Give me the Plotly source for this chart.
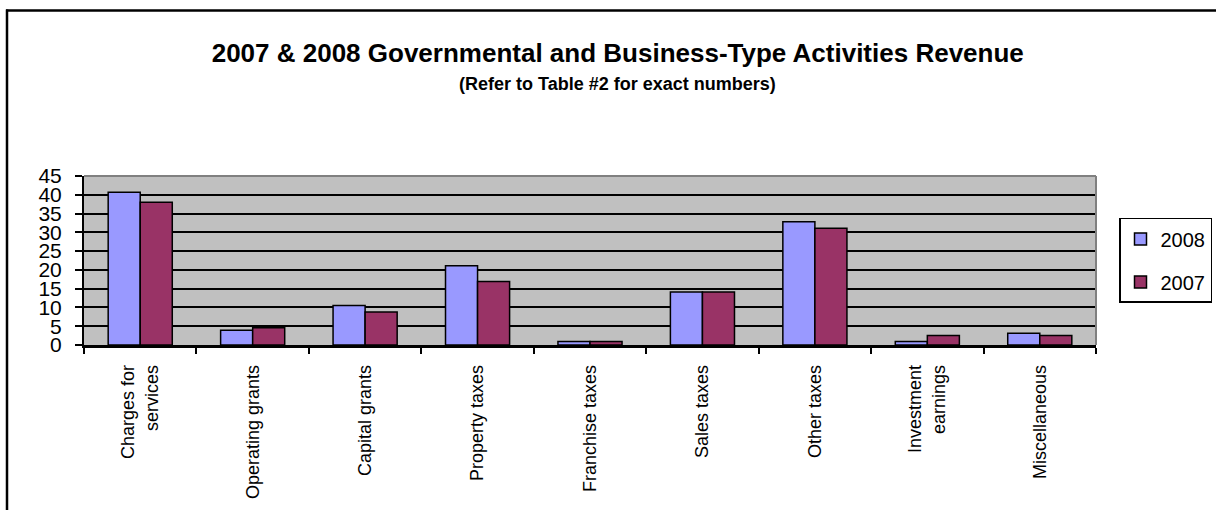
import plotly.graph_objects as go

# Revenue by source (percent of total), 2008 vs 2007
categories = [
    "Charges for<br>services",
    "Operating grants",
    "Capital grants",
    "Property taxes",
    "Franchise taxes",
    "Sales taxes",
    "Other taxes",
    "Investment<br>earnings",
    "Miscellaneous",
]
rev_2008 = [40.7, 3.9, 10.5, 21.1, 0.9, 14.1, 32.8, 0.9, 3.1]
rev_2007 = [38.0, 4.6, 8.8, 16.9, 0.9, 14.1, 31.1, 2.5, 2.5]
y_ticks = [0, 5, 10, 15, 20, 25, 30, 35, 40, 45]

W, H = 1216, 510
ML, MR, MT, MB = 84, 120, 176, 164.5
FONT = "Liberation Sans, Arial, sans-serif"


def px_x(px):
    return (px - ML) / (W - ML - MR)


def px_y(py):
    return (H - MB - py) / (H - MT - MB)


fig = go.Figure()
fig.add_trace(go.Bar(
    name="2008", x=categories, y=rev_2008,
    marker=dict(color="#9999FF", line=dict(color="#000000", width=1.5)),
    legendgroup="a",
))
fig.add_trace(go.Bar(
    name="2007", x=categories, y=rev_2007,
    marker=dict(color="#993366", line=dict(color="#000000", width=1.5)),
    legendgroup="b",
))

fig.update_layout(
    width=W, height=H,
    margin=dict(l=ML, r=MR, t=MT, b=MB, autoexpand=False),
    paper_bgcolor="#FFFFFF",
    plot_bgcolor="#C0C0C0",
    barmode="group",
    bargap=0.43,
    bargroupgap=0,
    font=dict(family=FONT, color="#000000"),
    title=dict(
        text="<b>2007 & 2008 Governmental and Business-Type Activities Revenue</b>",
        font=dict(family=FONT, size=26, color="#000000"),
        x=0.508, xanchor="center", xref="container",
        y=1 - 53 / H, yanchor="middle", yref="container",
    ),
    legend=dict(
        x=px_x(1119), y=px_y(218), xanchor="left", yanchor="top",
        bgcolor="#FFFFFF", bordercolor="#000000", borderwidth=1.5,
        font=dict(family=FONT, size=20, color="#000000"),
        traceorder="grouped", tracegroupgap=14,
        itemwidth=30,
    ),
    showlegend=True,
)

fig.update_xaxes(
    type="category",
    tickangle=-90,
    tickfont=dict(family=FONT, size=18, color="#000000"),
    showline=True, linecolor="#000000", linewidth=2.5,
    ticks="outside", ticklen=6, tickwidth=1.5, tickcolor="#000000",
    tickson="boundaries",
    showgrid=False,
    ticklabelstandoff=10,
)
fig.update_yaxes(
    range=[0, 45],
    tickvals=y_ticks,
    ticktext=[str(v) for v in y_ticks],
    tickfont=dict(family=FONT, size=21, color="#000000"),
    showline=True, linecolor="#000000", linewidth=2,
    ticks="outside", ticklen=7, tickwidth=1.5, tickcolor="#000000",
    showgrid=True, gridcolor="#000000", gridwidth=1.5,
    zeroline=False,
    ticklabelstandoff=9,
)

# Subtitle
fig.add_annotation(
    text="<b>(Refer to Table #2 for exact numbers)</b>",
    xref="paper", yref="paper", x=px_x(617), y=px_y(84),
    xanchor="center", yanchor="middle", showarrow=False,
    font=dict(family=FONT, size=18, color="#000000"),
)

# Plot-area border (top and right in grey)
fig.add_shape(type="line", xref="paper", yref="paper",
              x0=0, x1=1, y0=1, y1=1, line=dict(color="#808080", width=2))
fig.add_shape(type="line", xref="paper", yref="paper",
              x0=1, x1=1, y0=0, y1=1, line=dict(color="#808080", width=2))

# Outer chart frame
fig.add_shape(type="line", xref="paper", yref="paper",
              x0=px_x(6), x1=px_x(W + 5), y0=px_y(10), y1=px_y(10),
              line=dict(color="#000000", width=2.5))
fig.add_shape(type="line", xref="paper", yref="paper",
              x0=px_x(7), x1=px_x(7), y0=px_y(9), y1=px_y(H + 5),
              line=dict(color="#000000", width=2.5))

fig.write_html("out.html")
